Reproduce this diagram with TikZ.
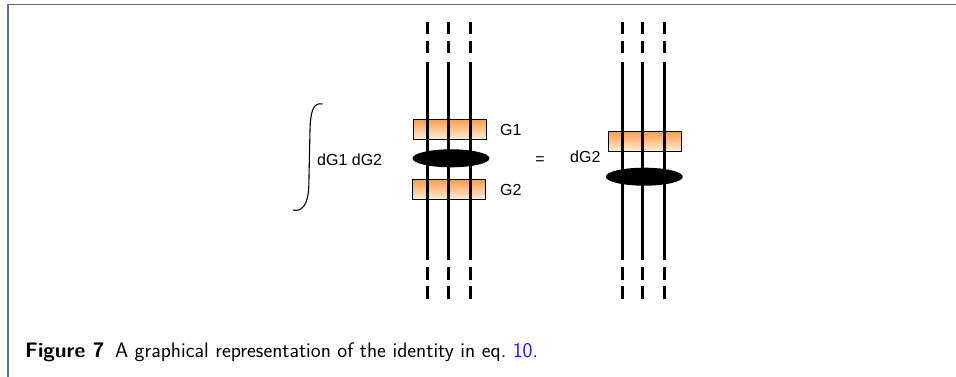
\documentclass[tikz,border=0pt]{standalone}
\usepackage{fontspec}
\newfontfamily\hel{Liberation Sans}
\usetikzlibrary{shapes.geometric}
\definecolor{framecol}{RGB}{92,114,145}
\definecolor{boxtop}{RGB}{250,158,78}
\definecolor{boxbot}{RGB}{255,238,220}
\definecolor{refblue}{RGB}{30,30,230}
\begin{document}
\begin{tikzpicture}[x=1pt,y=-1pt,
  wire/.style={line width=3pt},
  dashwire/.style={line width=3pt, dash pattern=on 12.5pt off 6.5pt},
  gbox/.style={draw=black, line width=0.8pt, rectangle, minimum width=73pt, minimum height=20pt, inner sep=0pt, top color=boxtop, bottom color=boxbot},
  blob/.style={ellipse, fill=black, minimum width=77pt, minimum height=18pt, inner sep=0pt},
  lbl/.style={font=\hel\fontsize{16}{18}\selectfont, inner sep=0pt},
  capt/.style={font=\sffamily\fontsize{21}{24}\selectfont, inner sep=0pt, anchor=base west}]
\useasboundingbox (0,0) rectangle (956,377);
% frame
\draw[framecol, line width=1.6pt] (8,377) -- (8,4.5) -- (956,4.5);
% integral sign
\draw[line width=1.1pt] (322.5,104) .. controls (313,102) and (310.5,112) .. (310,130) -- (308.8,186) .. controls (308.3,206) and (301,212) .. (293,210);
\node[lbl, anchor=west] (dg12) at (317,160) {dG1 dG2};
% left column
\node[gbox] (g1) at (450,129.3) {};
\node[gbox] (g2) at (449,189.7) {};
\foreach \i/\x in {a/427,b/448,c/470}{
  \coordinate (lt\i) at (\x,22);
  \coordinate (lm\i) at (\x,53);
  \coordinate (ls\i) at (\x,62);
  \coordinate (le\i) at (\x,259.5);
  \coordinate (lb\i) at (\x,267);
  \coordinate (lz\i) at (\x,299.5);
  \draw[dashwire] (lt\i) -- (lm\i);
  \draw[wire] (ls\i) -- (le\i);
  \draw[dashwire] (lb\i) -- (lz\i);
}
\node[blob] (e1) at (451,158.3) {};
\node[lbl, anchor=west] (lg1) at (500,129.5) {G1};
\node[lbl, anchor=west] (lg2) at (500,190) {G2};
\node[lbl] (eq) at (540,161) {=};
% right column
\node[lbl, anchor=west] (dg2) at (570,157) {dG2};
\node[gbox] (g3) at (645,141.5) {};
\foreach \i/\x in {a/622,b/642.5,c/664}{
  \coordinate (rt\i) at (\x,22);
  \coordinate (rm\i) at (\x,53);
  \coordinate (rs\i) at (\x,62.5);
  \coordinate (re\i) at (\x,259.5);
  \coordinate (rb\i) at (\x,267);
  \coordinate (rz\i) at (\x,299.5);
  \draw[dashwire] (rt\i) -- (rm\i);
  \draw[wire] (rs\i) -- (re\i);
  \draw[dashwire] (rb\i) -- (rz\i);
}
\node[blob] (e2) at (644.3,176.7) {};
% caption
\node[capt] (cap) at (25,357) {\textbf{Figure 7}\hspace{0.5em}A graphical representation of the identity in eq.\ \textcolor{refblue}{10}.};
\end{tikzpicture}
\end{document}
